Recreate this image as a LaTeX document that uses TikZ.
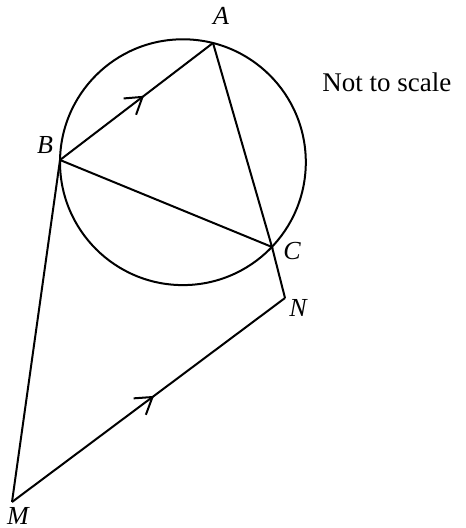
\documentclass[tikz,border=0pt]{standalone}
\usepackage{fontspec}
\setmainfont{Liberation Serif}
\usepackage{tikz}
\usetikzlibrary{arrows.meta,decorations.markings,calc}
\tikzset{
  edge/.style={draw=black,line width=1pt},
  ptlabel/.style={font=\fontsize{13}{15}\selectfont\itshape,inner sep=0pt},
  midarrow/.style={decoration={markings,
      mark=at position #1 with {\arrow{Straight Barb[length=2.8mm,width=3.6mm,line width=1pt]}}},
      postaction={decorate}}
}
\begin{document}
\begin{tikzpicture}[x=0.5pt,y=-0.5pt]
  \useasboundingbox (0,0) rectangle (465,528);
  % points
  \coordinate (O) at (182.9,162.2);
  \coordinate (A) at (213,43);
  \coordinate (B) at (60,160);
  \coordinate (C) at (272,247);
  \coordinate (N) at (285,298);
  \coordinate (M) at (12,502);
  % circle and triangle
  \draw[edge] (O) circle[radius=61.45pt];
  \draw[edge,midarrow=0.55] (B) -- (A);
  \draw[edge] (A) -- (C) -- (B);
  \draw[edge] (C) -- (N);
  \draw[edge] (B) -- (M);
  \draw[edge,midarrow=0.52] (M) -- (N);
  % labels
  \node[ptlabel] (lA) at (221,16) {A};
  \node[ptlabel] (lB) at (45,145) {B};
  \node[ptlabel] (lC) at (292,251) {C};
  \node[ptlabel] (lN) at (298,308) {N};
  \node[ptlabel] (lM) at (18,516) {M};
  \node[font=\fontsize{13.5}{15}\selectfont,anchor=west,inner sep=0pt] (note) at (322,82) {Not to scale};
\end{tikzpicture}
\end{document}
